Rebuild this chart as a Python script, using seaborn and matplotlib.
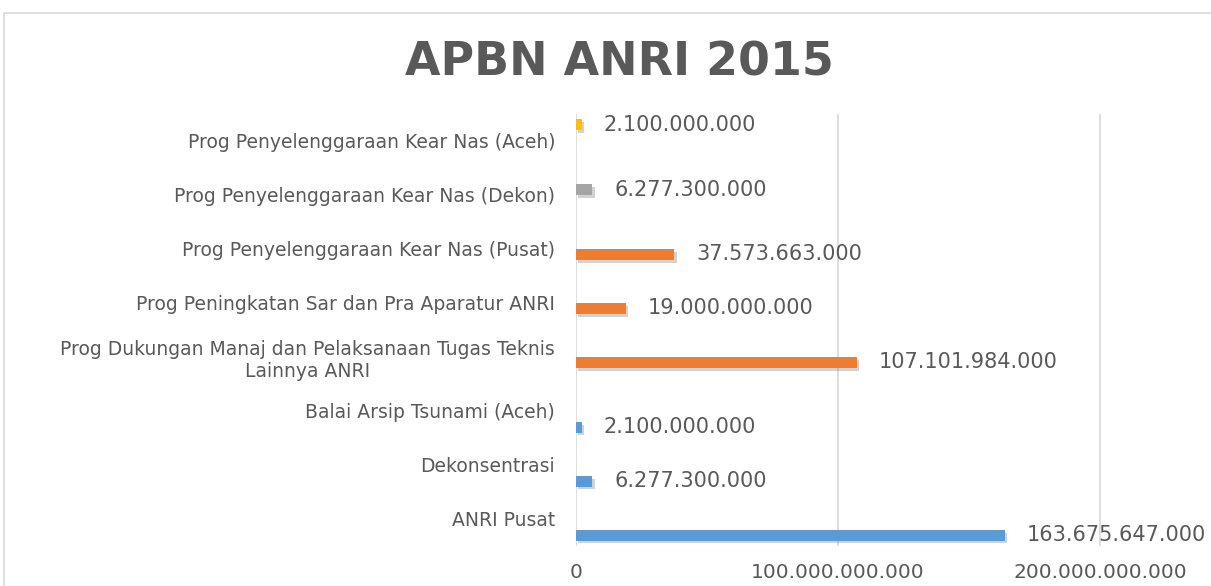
import matplotlib
matplotlib.use("Agg")
import matplotlib.pyplot as plt
import matplotlib.patheffects as pe
from matplotlib.patches import Rectangle
import pandas as pd
import seaborn as sns

# Data (Rupiah)
categories = [
    "Prog Penyelenggaraan Kear Nas (Aceh)",
    "Prog Penyelenggaraan Kear Nas (Dekon)",
    "Prog Penyelenggaraan Kear Nas (Pusat)",
    "Prog Peningkatan Sar dan Pra Aparatur ANRI",
    "Prog Dukungan Manaj dan Pelaksanaan Tugas Teknis\nLainnya ANRI",
    "Balai Arsip Tsunami (Aceh)",
    "Dekonsentrasi",
    "ANRI Pusat",
]
values = [2100000000, 6277300000, 37573663000, 19000000000,
          107101984000, 2100000000, 6277300000, 163675647000]
series = ["Aceh", "Dekon", "Program", "Program",
          "Program", "Satker", "Satker", "Satker"]
series_order = ["Aceh", "Dekon", "Program", "Satker"]
colors = ["#FFC000", "#A5A5A5", "#ED7D31", "#5B9BD5"]
xticks = [0, 100000000000, 200000000000]

df = pd.DataFrame({"kategori": categories, "nilai": values, "seri": series})

txt = "#595959"

sns.set_style("white")
plt.rcParams["font.family"] = ["DejaVu Sans"]

fig = plt.figure(figsize=(12.11, 5.86), dpi=100)
W, H = 1211, 586
ax = fig.add_axes([576 / W, 1 - 546 / H, (W - 576) / W, 432 / H])

sns.barplot(data=df, x="nilai", y="kategori", hue="seri",
            hue_order=series_order, palette=colors, order=categories,
            orient="h", dodge=True, width=0.8, saturation=1,
            linewidth=0, edgecolor="none", legend=False, ax=ax)

shadow = [pe.SimplePatchShadow(offset=(1.5, -2), shadow_rgbFace="#7f7f7f", alpha=0.35),
          pe.Normal()]
for bar in ax.patches:
    bar.set_path_effects(shadow)

def fmt(v):
    return f"{int(round(v)):,}".replace(",", ".")

for cont in ax.containers:
    ax.bar_label(cont, labels=[fmt(v) for v in cont.datavalues],
                 padding=16, fontsize=15, color=txt)

ax.set_xlim(0, 242.4e9)
ax.set_xticks(xticks)
ax.set_xticklabels([fmt(t) for t in xticks], fontsize=14.5, color=txt)
ax.set_xlabel("")
ax.set_ylabel("")
ax.tick_params(axis="y", length=0, pad=15, labelsize=13.5, labelcolor=txt)
ax.tick_params(axis="x", length=0, pad=12)
for lab in ax.get_yticklabels():
    lab.set_multialignment("center")

ax.grid(axis="x", color="#D9D9D9", linewidth=1.2)
ax.grid(axis="y", visible=False)
ax.set_axisbelow(True)
for s in ax.spines.values():
    s.set_visible(False)

# chart area border
fig.patches.append(Rectangle((4 / W, -0.1), 1.2, 1.1 - 13 / H,
                             transform=fig.transFigure, fill=False,
                             edgecolor="#D9D9D9", linewidth=1.2))

fig.text(619 / W, 1 - 75 / H, "APBN ANRI 2015", ha="center", va="baseline",
         fontsize=33, fontweight="bold", color=txt)

fig.savefig("out.png", dpi=100)
